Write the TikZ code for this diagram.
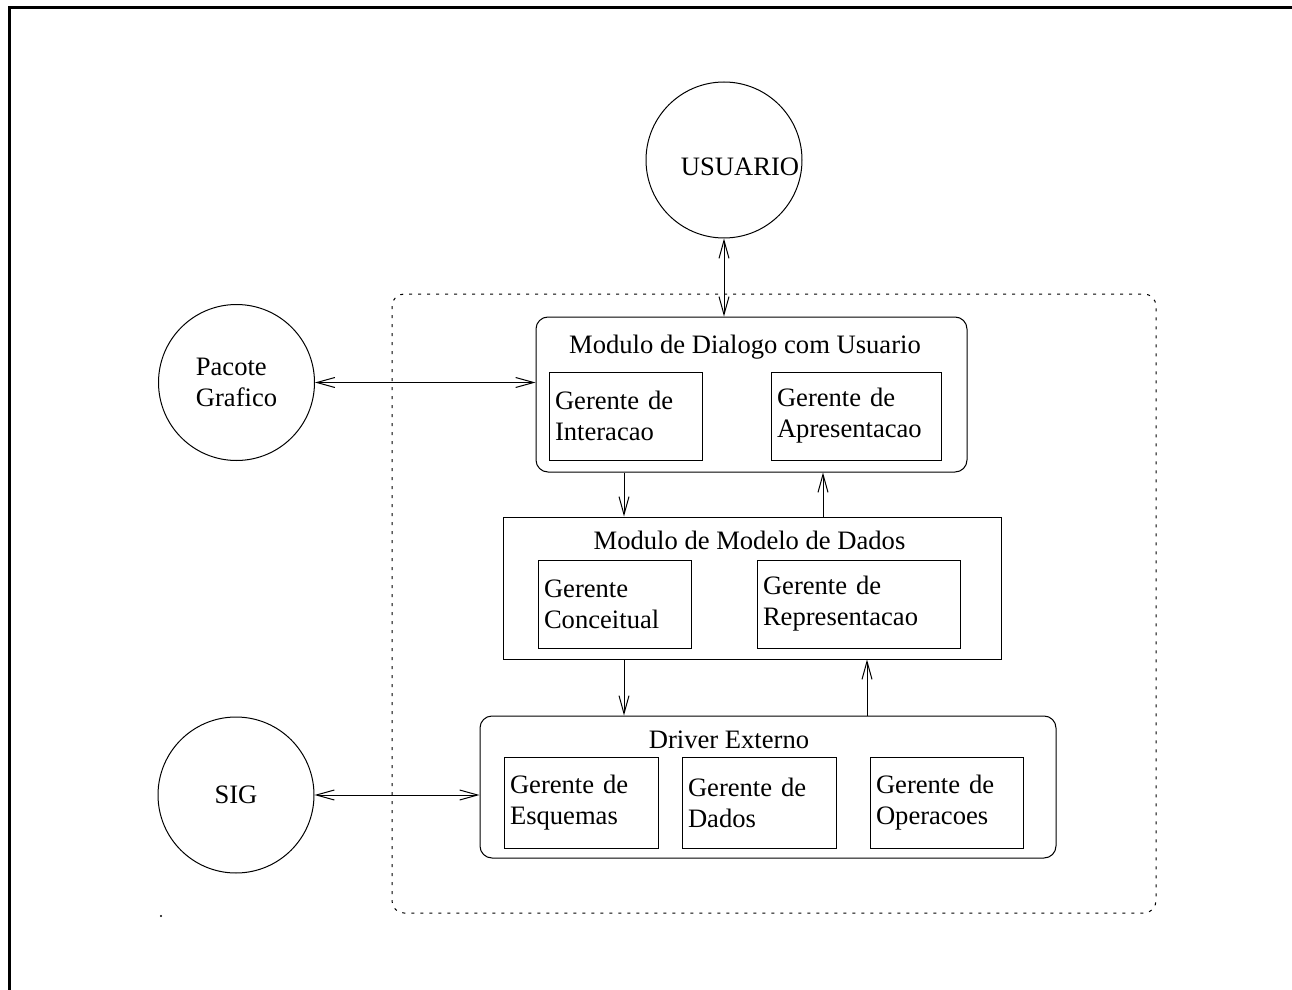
\documentclass[tikz,border=0pt]{standalone}
\usepackage{fontspec}
\setmainfont{Liberation Serif}
\usepackage{tikz}
\usetikzlibrary{arrows.meta,positioning}

\begin{document}
\begin{tikzpicture}[x=0.5pt,y=-0.5pt,>={Straight Barb[length=9pt,width=5pt]},
        line width=0.5pt,font=\fontsize{13.3pt}{15.5pt}\selectfont,
        ator/.style={draw,circle,minimum size=78pt,inner sep=0pt,align=left},
        modulo/.style={draw,rounded corners=6pt,inner sep=0pt},
        gerente/.style={draw,align=left,minimum height=44pt,inner xsep=3pt,text width=#1},
        titulo/.style={anchor=base}]

    \useasboundingbox (0,0) rectangle (1292,990);
    \draw[line width=1.5pt] (9,990) -- (9,8) -- (1292,8);
    \fill (161,916) circle (0.6pt);

    % atores externos
    \node[ator,label={[xshift=8pt,yshift=-3.5pt]center:USUARIO}] (usuario) at (724,160) {};
    \node[ator] (pacote) at (236.5,382.5) {Pacote\\Grafico};
    \node[ator] (sig) at (236,795) {SIG};

    % sistema
    \draw[dash pattern=on 1.5pt off 3pt,rounded corners=6pt] (392,294) rectangle (1156,913);

    \node[modulo,minimum width=215.5pt,minimum height=77.5pt] (dialogo) at (751.5,394.5) {};
    \node[titulo] (tdialogo) at (745,353) {Modulo de Dialogo com Usuario};
    \node[gerente=70.5pt] (interacao) at (625.5,416) {Gerente de\\Interacao};
    \node[gerente=79pt] (apresentacao) at (856,416) {Gerente de\\Apresentacao};

    \node[modulo,rounded corners=0pt,minimum width=249pt,minimum height=71pt] (modelo) at (752,588) {};
    \node[titulo] (tmodelo) at (749.5,549) {Modulo de Modelo de Dados};
    \node[gerente=70.5pt] (conceitual) at (614.5,604) {Gerente\\Conceitual};
    \node[gerente=95.5pt] (representacao) at (858.5,604) {Gerente de\\Representacao};

    \node[modulo,minimum width=288pt,minimum height=71pt] (driver) at (768,787) {};
    \node[titulo] (tdriver) at (729,748) {Driver Externo};
    \node[gerente=71pt,minimum height=45.5pt] (esquemas) at (581,802.5) {Gerente de\\Esquemas};
    \node[gerente=71pt,minimum height=45.5pt] (dados) at (759,802.5) {Gerente de\\Dados};
    \node[gerente=70.5pt,minimum height=45.5pt] (operacoes) at (946.5,802.5) {Gerente de\\Operacoes};

    \path (usuario.south) edge[<->] (usuario.south |- dialogo.north);
    \path (pacote.east) edge[<->] (pacote.east -| dialogo.west);
    \path (sig.east) edge[<->] (sig.east -| driver.west);
    \path ([xshift=-64pt]dialogo.south -| modelo.north) edge[->] ([xshift=-64pt]modelo.north);
    \path ([xshift=35.5pt]modelo.north) edge[->] ([xshift=35.5pt]modelo.north |- dialogo.south);
    \path ([xshift=-64pt]modelo.south) edge[->] ([xshift=-64pt]modelo.south |- driver.north);
    \path ([xshift=57.5pt]driver.north -| modelo.south) edge[->] ([xshift=57.5pt]modelo.south);

\end{tikzpicture}
\end{document}
